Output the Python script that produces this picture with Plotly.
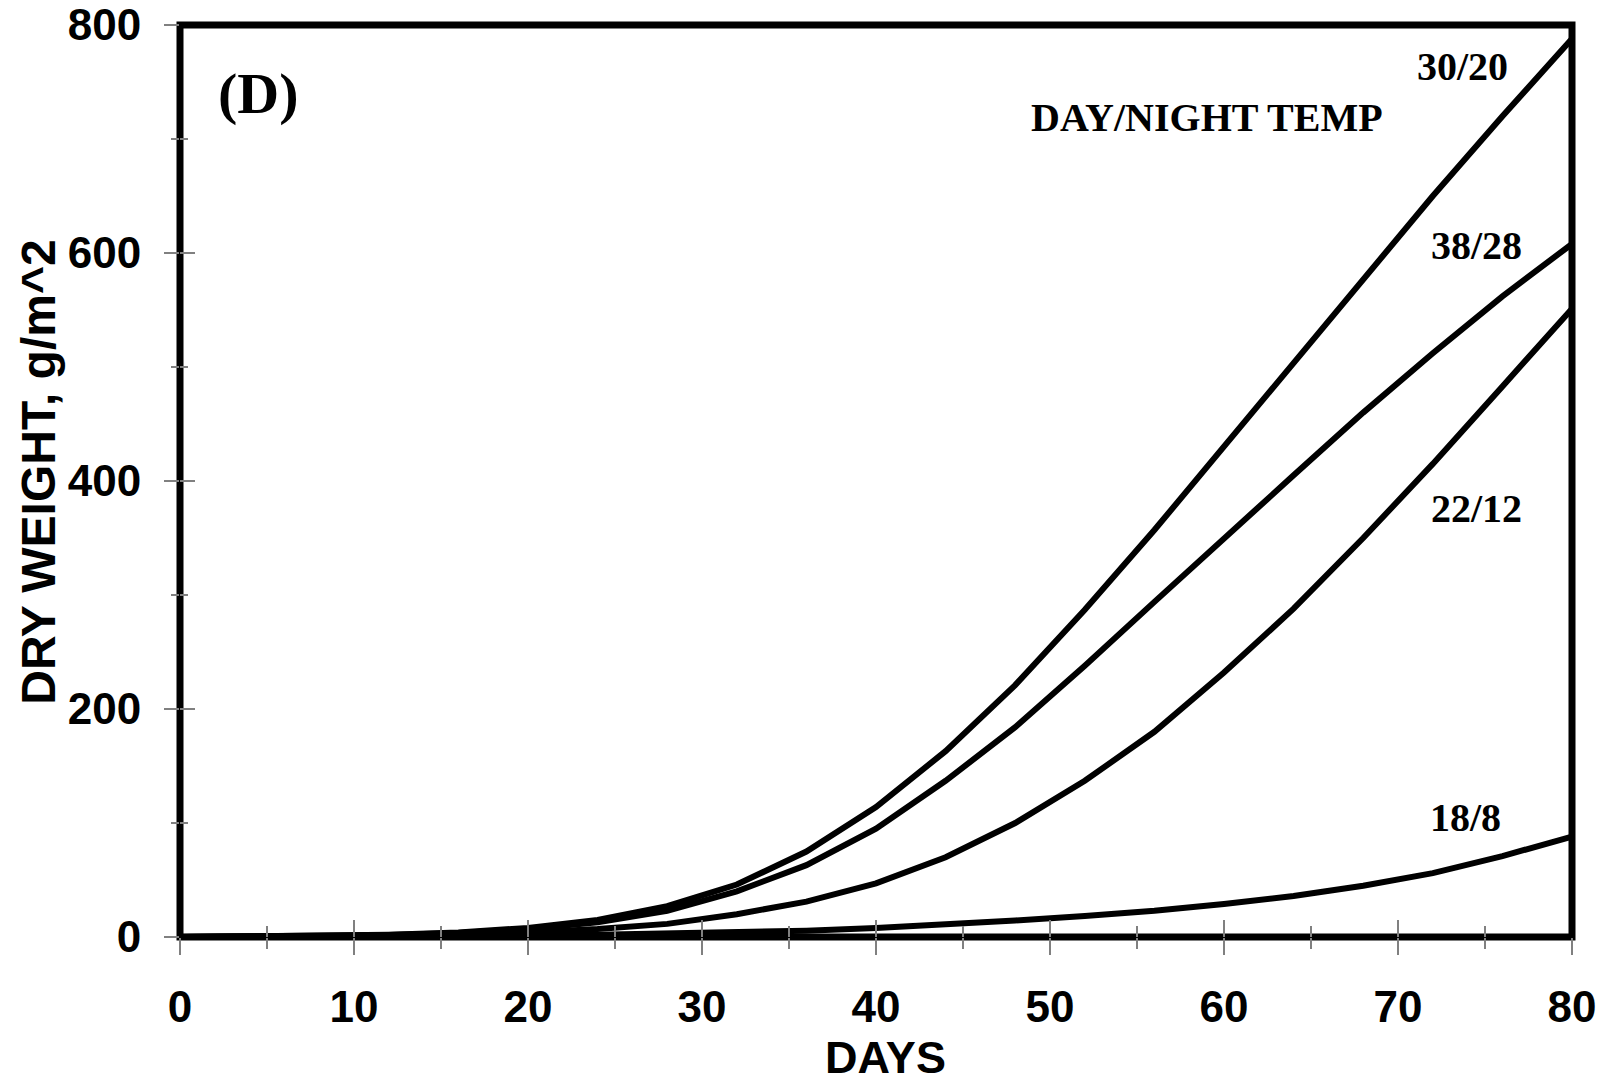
import plotly.graph_objects as go

# ---- data ----
days = [0, 4, 8, 12, 16, 20, 24, 28, 32, 36, 40, 44, 48, 52, 56, 60, 64, 68, 72, 76, 80]
w_30_20 = [0, 0.3, 0.8, 2, 4, 8, 15, 27, 46, 75, 114, 163, 221, 287, 357, 430, 505, 578, 650, 720, 788]
w_38_28 = [0, 0.3, 0.7, 1.8, 3.5, 7, 13, 23, 40, 63, 95, 137, 184, 238, 294, 350, 405, 460, 512, 562, 608]
w_22_12 = [0, 0.1, 0.3, 0.7, 1.5, 4, 7, 11.5, 20, 31, 47, 70, 100, 137, 180, 232, 288, 350, 415, 483, 551]
w_18_8 = [0, 0, 0.1, 0.3, 0.6, 1, 2, 3, 4, 5.5, 8, 11, 14.5, 18.5, 23, 29, 36, 45, 56, 71, 88]

series = [("30/20", w_30_20), ("38/28", w_38_28), ("22/12", w_22_12), ("18/8", w_18_8)]

# label positions (day, weight)
label_pos = {"30/20": (73.7, 764), "38/28": (74.5, 607), "22/12": (74.5, 376), "18/8": (73.9, 105)}

x_ticks = [0, 10, 20, 30, 40, 50, 60, 70, 80]
y_ticks = [0, 200, 400, 600, 800]

fig = go.Figure()
for name, vals in series:
    fig.add_trace(go.Scatter(x=days, y=vals, mode="lines", name=name,
                             line=dict(color="black", width=6), showlegend=False))

# dummy trace for overlay axes (inside ticks)
fig.add_trace(go.Scatter(x=[None], y=[None], xaxis="x2", yaxis="y2",
                         showlegend=False, hoverinfo="skip"))

tick_font = dict(family="Liberation Sans, Arial, sans-serif", size=44, color="black")
tick_col = "#808080"

common_x = dict(range=[0, 80], tickvals=x_ticks, showgrid=False, zeroline=False,
                showline=False, tickcolor=tick_col, tickwidth=2, ticklen=17, automargin=False)
common_y = dict(range=[0, 800], tickvals=y_ticks, showgrid=False, zeroline=False,
                showline=False, tickcolor=tick_col, tickwidth=2, ticklen=15, automargin=False)

fig.update_layout(
    width=1596, height=1074,
    margin=dict(l=172, r=32, t=17, b=144.5),
    paper_bgcolor="white", plot_bgcolor="white",
    xaxis=dict(**common_x, ticks="outside",
               ticktext=[f"<b>{v}</b>" for v in x_ticks], tickfont=tick_font,
               ticklabelstandoff=14, ticklabeloverflow="allow",
               minor=dict(ticks="outside", dtick=5, ticklen=11, tickcolor=tick_col, tickwidth=2)),
    yaxis=dict(**common_y, ticks="outside",
               ticktext=[f"<b>{v}</b>" for v in y_ticks], tickfont=tick_font,
               ticklabelstandoff=14, ticklabeloverflow="allow",
               minor=dict(ticks="outside", dtick=100, ticklen=8, tickcolor=tick_col, tickwidth=2)),
    xaxis2=dict(**common_x, overlaying="x", ticks="inside", showticklabels=False,
                minor=dict(ticks="inside", dtick=5, ticklen=11, tickcolor=tick_col, tickwidth=2)),
    yaxis2=dict(**common_y, overlaying="y", ticks="inside", showticklabels=False,
                minor=dict(ticks="inside", dtick=100, ticklen=8, tickcolor=tick_col, tickwidth=2)),
)

# thick black frame (below ticks, like the reference)
fig.add_shape(type="rect", xref="paper", yref="paper", x0=0, x1=1, y0=0, y1=1,
              line=dict(color="black", width=7), layer="below")

serif = "Liberation Serif, Times New Roman, serif"
sans = "Liberation Sans, Arial, sans-serif"

for name, _ in series:
    lx, ly = label_pos[name]
    fig.add_annotation(x=lx, y=ly, xref="x", yref="y", text=f"<b>{name}</b>",
                       xanchor="center", yanchor="middle",
                       showarrow=False, font=dict(family=serif, size=40, color="black"))

fig.add_annotation(x=59.0, y=719, xref="x", yref="y", text="<b>DAY/NIGHT TEMP</b>",
                   xanchor="center", yanchor="middle",
                   showarrow=False, font=dict(family=serif, size=40, color="black"))
fig.add_annotation(x=4.5, y=740, xref="x", yref="y", text="<b>(D)</b>",
                   xanchor="center", yanchor="middle",
                   showarrow=False, font=dict(family=serif, size=58, color="black"))

# axis titles
fig.add_annotation(x=(885 - 180) / 1392, y=(937.5 - 1058) / 912.5, xref="paper", yref="paper",
                   text="<b>DAYS</b>", showarrow=False, xanchor="center", yanchor="middle",
                   font=dict(family=sans, size=45, color="black"))
fig.add_annotation(x=(39 - 180) / 1392, y=(937.5 - 473) / 912.5, xref="paper", yref="paper",
                   text="<b>DRY WEIGHT, g/m^2</b>", textangle=-90, showarrow=False,
                   xanchor="center", yanchor="middle",
                   font=dict(family=sans, size=48, color="black"))

fig.write_html("out.html")
